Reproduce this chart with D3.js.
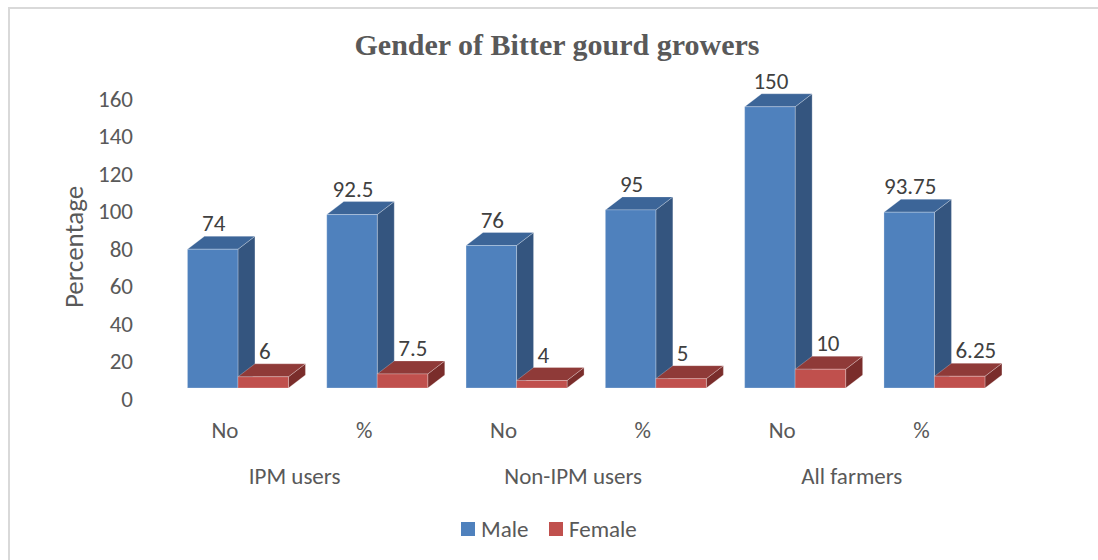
<!DOCTYPE html>
<html>
<head>
<meta charset="utf-8">
<script src="https://cdn.jsdelivr.net/npm/d3@7"></script>
<style>
  html, body { margin: 0; padding: 0; background: #fff; }
  svg { display: block; }
  text { font-family: Calibri, Carlito, Lato, sans-serif; }
</style>
</head>
<body>
<script>
// chart data
const groups = ['IPM users', 'Non-IPM users', 'All farmers'];
const measures = ['No', '%'];
const series = ['Male', 'Female'];
const maleValues = [74, 92.5, 76, 95, 150, 93.75];
const femaleValues = [6, 7.5, 4, 5, 10, 6.25];
const yTicks = [0, 20, 40, 60, 80, 100, 120, 140, 160];

const width = 1098, height = 560;
const depthX = 17, depthY = 13;
const fontSize = 23;
const colors = {
  Male: { front: '#4F81BD', top: '#3C6598', side: '#34557F' },
  Female: { front: '#C0504D', top: '#8F3A38', side: '#7A2D2B' }
};

const svg = d3.select('body').append('svg')
  .attr('width', width)
  .attr('height', height);

// chart frame (only top and left edges are visible in the crop)
svg.append('path')
  .attr('d', `M 9 ${height} L 9 8 L ${width} 8`)
  .attr('fill', 'none')
  .attr('stroke', '#d9d9d9')
  .attr('stroke-width', 2);

// Title
svg.append('text')
  .attr('x', 557)
  .attr('y', 55)
  .attr('text-anchor', 'middle')
  .style('font-family', '"Liberation Serif", "Times New Roman", serif')
  .style('font-weight', 'bold')
  .style('font-size', '30px')
  .attr('fill', '#595959')
  .text('Gender of Bitter gourd growers');

// one slot per (group, measure)
const slots = [];
groups.forEach(g => measures.forEach(m => slots.push({ group: g, measure: m, key: g + '|' + m })));
slots.forEach((s, i) => {
  s.Male = maleValues[i];
  s.Female = femaleValues[i];
});

const x0 = d3.scaleBand()
  .domain(slots.map(s => s.key))
  .range([168.3, 1004.1])
  .paddingInner(0.275)
  .paddingOuter(0.1375);

const x1 = d3.scaleBand()
  .domain(series)
  .range([0, x0.bandwidth()]);

const y = d3.scaleLinear()
  .domain([0, 160])
  .range([388, 88]);

// Y axis labels (no line, no ticks)
const yAxis = svg.append('g')
  .attr('transform', 'translate(133, 11)')
  .call(d3.axisLeft(y).tickValues(yTicks).tickSize(0).tickPadding(0));
yAxis.select('.domain').remove();
yAxis.selectAll('text')
  .style('font-family', 'Calibri, Carlito, Lato, sans-serif')
  .style('font-size', fontSize + 'px')
  .attr('fill', '#595959');

// Y axis title
svg.append('text')
  .attr('transform', 'translate(83, 247) rotate(-90)')
  .attr('text-anchor', 'middle')
  .style('font-size', '27px')
  .attr('fill', '#595959')
  .text('Percentage');

// 3D bars
const barGroups = svg.append('g')
  .selectAll('g')
  .data(slots)
  .enter()
  .append('g')
  .attr('transform', d => `translate(${x0(d.key)}, 0)`);

const bw = x1.bandwidth();
const base = y(0);

series.forEach(name => {
  const bx = x1(name);
  const top = d => y(d[name]);

  // right side face
  barGroups.append('path')
    .attr('d', d => `M ${bx + bw} ${top(d)} L ${bx + bw + depthX} ${top(d) - depthY}
                     L ${bx + bw + depthX} ${base - depthY} L ${bx + bw} ${base} Z`)
    .attr('fill', colors[name].side)
    .attr('stroke', 'rgba(255,255,255,0.25)')
    .attr('stroke-width', 1);

  // top face
  barGroups.append('path')
    .attr('d', d => `M ${bx} ${top(d)} L ${bx + depthX} ${top(d) - depthY}
                     L ${bx + bw + depthX} ${top(d) - depthY} L ${bx + bw} ${top(d)} Z`)
    .attr('fill', colors[name].top)
    .attr('stroke', 'rgba(255,255,255,0.25)')
    .attr('stroke-width', 1);

  // front face
  barGroups.append('rect')
    .attr('x', bx)
    .attr('y', d => top(d))
    .attr('width', bw)
    .attr('height', d => base - top(d))
    .attr('fill', colors[name].front)
    .attr('stroke', 'rgba(255,255,255,0.25)')
    .attr('stroke-width', 1);
});

// value labels, pushed right when they would sit on the male bar's side
series.forEach(name => {
  const bx = x1(name);
  barGroups.append('text')
    .attr('x', bx + bw / 2 + 1)
    .attr('y', d => y(d[name]) - depthY - 5)
    .attr('text-anchor', 'middle')
    .style('font-size', fontSize + 'px')
    .attr('fill', '#404040')
    .text(d => d[name])
    .each(function () {
      if (name === 'Female') {
        const box = this.getBBox();
        const minLeft = bw + depthX + 4;
        if (box.x < minLeft) {
          d3.select(this).attr('x', +d3.select(this).attr('x') + (minLeft - box.x));
        }
      }
    });
});

// category labels
svg.append('g')
  .selectAll('text')
  .data(slots)
  .enter()
  .append('text')
  .attr('x', d => x0(d.key) + x0.bandwidth() / 2 - 13)
  .attr('y', 438)
  .attr('text-anchor', 'middle')
  .style('font-size', fontSize + 'px')
  .attr('fill', '#595959')
  .text(d => d.measure);

svg.append('g')
  .selectAll('text')
  .data(groups)
  .enter()
  .append('text')
  .attr('x', g => {
    const a = x0(g + '|' + measures[0]);
    const b = x0(g + '|' + measures[1]);
    return (a + b) / 2 + x0.bandwidth() / 2 - 13;
  })
  .attr('y', 484)
  .attr('text-anchor', 'middle')
  .style('font-size', fontSize + 'px')
  .attr('fill', '#595959')
  .text(g => g);

// legend
const legend = svg.append('g').attr('transform', 'translate(461, 522)');
const legendX = [0, 88];
series.forEach((name, i) => {
  legend.append('rect')
    .attr('x', legendX[i])
    .attr('y', 0)
    .attr('width', 14)
    .attr('height', 14)
    .attr('fill', colors[name].front);
  legend.append('text')
    .attr('x', legendX[i] + 20)
    .attr('y', 15)
    .style('font-size', fontSize + 'px')
    .attr('fill', '#595959')
    .text(name);
});
</script>
</body>
</html>
